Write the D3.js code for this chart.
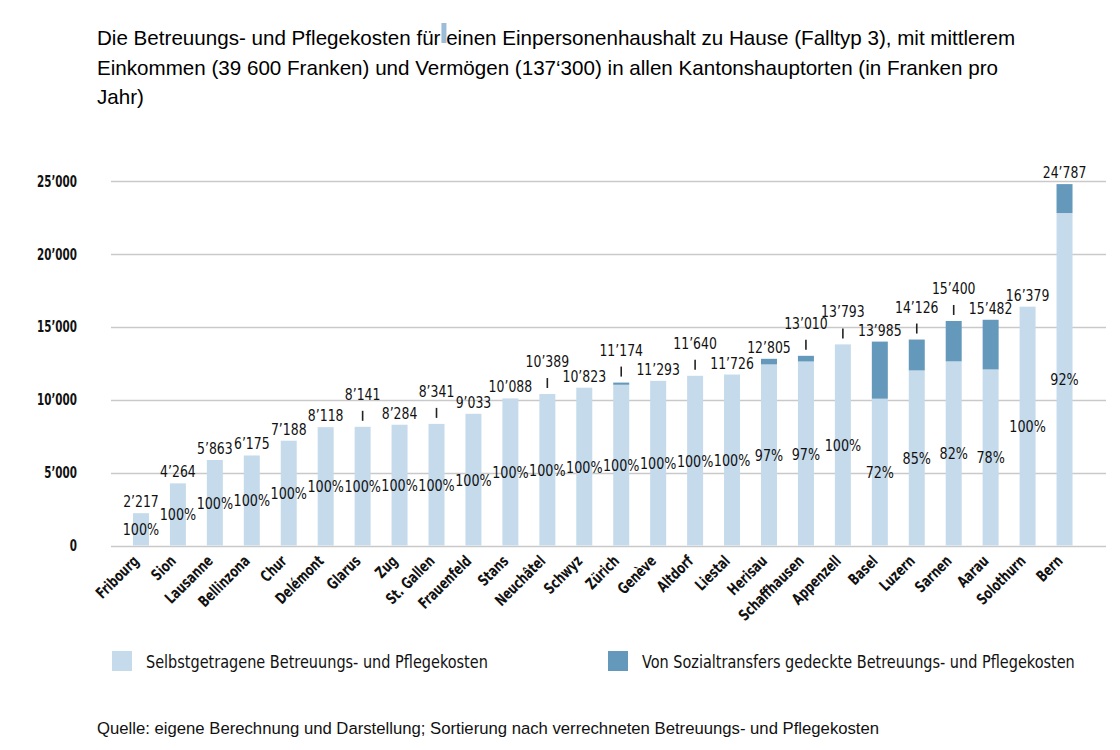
<!DOCTYPE html>
<html>
<head>
<meta charset="utf-8">
<script src="https://cdn.jsdelivr.net/npm/d3@7"></script>
<style>
  html, body { margin: 0; padding: 0; background: #fff; }
  svg { display: block; }
</style>
</head>
<body>
<svg id="chart" width="1120" height="750"></svg>
<script>
// ---------------- data ----------------
const cities = ["Fribourg","Sion","Lausanne","Bellinzona","Chur","Delémont","Glarus","Zug","St. Gallen","Frauenfeld","Stans","Neuchâtel","Schwyz","Zürich","Genève","Altdorf","Liestal","Herisau","Schaffhausen","Appenzell","Basel","Luzern","Sarnen","Aarau","Solothurn","Bern"];
const totals = [2217,4264,5863,6175,7188,8118,8141,8284,8341,9033,10088,10389,10823,11174,11293,11640,11726,12805,13010,13793,13985,14126,15400,15482,16379,24787];
const covered = [0,0,0,0,0,0,0,0,0,0,0,0,0,150,0,0,0,384,390,0,3916,2119,2772,3406,0,1983];
const pctLabels = ["100%","100%","100%","100%","100%","100%","100%","100%","100%","100%","100%","100%","100%","100%","100%","100%","100%","97%","97%","100%","72%","85%","82%","78%","100%","92%"];
const leaderCities = ["Glarus","St. Gallen","Neuchâtel","Zürich","Altdorf","Schaffhausen","Appenzell","Luzern","Sarnen"];
const yTicks = [0,5000,10000,15000,20000,25000];
const seriesNames = ["Selbstgetragene Betreuungs- und Pflegekosten","Von Sozialtransfers gedeckte Betreuungs- und Pflegekosten"];
const titleLines = [
  "Die Betreuungs- und Pflegekosten für einen Einpersonenhaushalt zu Hause (Falltyp 3), mit mittlerem",
  "Einkommen (39 600 Franken) und Vermögen (137‘300) in allen Kantonshauptorten (in Franken pro",
  "Jahr)"
];
const sourceText = "Quelle: eigene Berechnung und Darstellung; Sortierung nach verrechneten Betreuungs- und Pflegekosten";

// ---------------- styles ----------------
const LIGHT = "#c5dbeb";
const DARK = "#6599bb";
const GRID = "#c9c9c9";
const COND = "'DejaVu Sans Condensed','DejaVu Sans',sans-serif";

const data = cities.map((c, i) => ({
  city: c, total: totals[i], social: covered[i], self: totals[i] - covered[i],
  pct: pctLabels[i], leader: leaderCities.includes(c)
}));

const svg = d3.select("#chart");
svg.append("rect").attr("width", 1120).attr("height", 750).attr("fill", "#fff");

const x = d3.scaleBand().domain(cities).range([122.5, 1083]).paddingInner(0.567).paddingOuter(0.2835);
const y = d3.scaleLinear().domain([0, 25000]).range([545.5, 181]);
const fmt = v => d3.format(",")(v).replace(/,/g, "’");
const cx = d => x(d.city) + x.bandwidth() / 2;

// title
const title = svg.append("text").attr("font-family", "'Liberation Sans', Arial, sans-serif")
  .attr("font-size", 20.6).attr("fill", "#000");
const tspans = titleLines.map((t, i) =>
  title.append("tspan").attr("x", 97).attr("y", 45 + i * 29.5).text(t));
// small cursor-like artifact after "für" in the title
const cutIdx = titleLines[0].indexOf("für") + 3;
const cutX = 97 + tspans[0].node().getSubStringLength(0, cutIdx);
svg.append("rect").attr("x", cutX + 1).attr("y", 23).attr("width", 5).attr("height", 20).attr("fill", "#9dbcd8");

// grid lines
svg.append("g").selectAll("line").data(yTicks).join("line")
  .attr("x1", 111).attr("x2", 1106)
  .attr("y1", d => Math.round(y(d)) + 0.5).attr("y2", d => Math.round(y(d)) + 0.5)
  .attr("stroke", GRID).attr("stroke-width", 1.5);

// y axis labels
const yAxis = d3.axisLeft(y).tickValues(yTicks).tickSize(0).tickPadding(0).tickFormat(fmt);
const yg = svg.append("g").attr("transform", "translate(77,0)").call(yAxis);
yg.select(".domain").remove();
yg.selectAll("text").attr("font-family", COND).attr("font-weight", "bold").attr("font-size", 16)
  .attr("fill", "#111").attr("transform", "scale(0.72,1)");

// bars
const bars = svg.append("g");
bars.selectAll("rect.self").data(data).join("rect").attr("class", "self")
  .attr("x", d => x(d.city)).attr("width", x.bandwidth())
  .attr("y", d => y(d.self)).attr("height", d => y(0) - y(d.self)).attr("fill", LIGHT);
bars.selectAll("rect.soc").data(data.filter(d => d.social > 0)).join("rect").attr("class", "soc")
  .attr("x", d => x(d.city)).attr("width", x.bandwidth())
  .attr("y", d => y(d.total)).attr("height", d => y(d.self) - y(d.total)).attr("fill", DARK);

// leader ticks
svg.append("g").selectAll("line").data(data.filter(d => d.leader)).join("line")
  .attr("x1", cx).attr("x2", cx)
  .attr("y1", d => y(d.total) - 6).attr("y2", d => y(d.total) - 16)
  .attr("stroke", "#222").attr("stroke-width", 1.6);

// value labels
svg.append("g").selectAll("text").data(data).join("text")
  .attr("transform", d => `translate(${cx(d)},${y(d.total) - (d.leader ? 27 : 6)}) scale(0.84,1)`)
  .attr("text-anchor", "middle").attr("font-family", COND).attr("font-size", 16.5).attr("fill", "#111")
  .text(d => fmt(d.total));

// percent labels
svg.append("g").selectAll("text").data(data).join("text")
  .attr("transform", d => `translate(${cx(d)},${y(d.self / 2) + 6}) scale(0.86,1)`)
  .attr("text-anchor", "middle").attr("font-family", COND).attr("font-size", 16.5).attr("fill", "#111")
  .text(d => d.pct);

// x axis labels
const xAxis = d3.axisBottom(x).tickSize(0).tickPadding(0);
const xg = svg.append("g").attr("transform", "translate(0,545)").call(xAxis);
xg.select(".domain").remove();
xg.selectAll("text")
  .attr("font-family", COND).attr("font-weight", "bold").attr("font-size", 15.5).attr("fill", "#111")
  .attr("text-anchor", "end").attr("dy", null).attr("y", 0).attr("x", 0)
  .attr("transform", "translate(-1,17) rotate(-45) scale(0.8,1)");

// legend
const legend = svg.append("g");
const legendX = [112, 608];
seriesNames.forEach((name, i) => {
  legend.append("rect").attr("x", legendX[i]).attr("y", 651).attr("width", 20).attr("height", 20)
    .attr("fill", i === 0 ? LIGHT : DARK);
  legend.append("text").attr("transform", `translate(${legendX[i] + 34},668) scale(0.87,1)`)
    .attr("font-family", COND).attr("font-size", 18.5).attr("fill", "#111").text(name);
});

// source
svg.append("text").attr("x", 97).attr("y", 734)
  .attr("font-family", "'Liberation Sans', Arial, sans-serif").attr("font-size", 16.7).attr("fill", "#111")
  .text(sourceText);
</script>
</body>
</html>
